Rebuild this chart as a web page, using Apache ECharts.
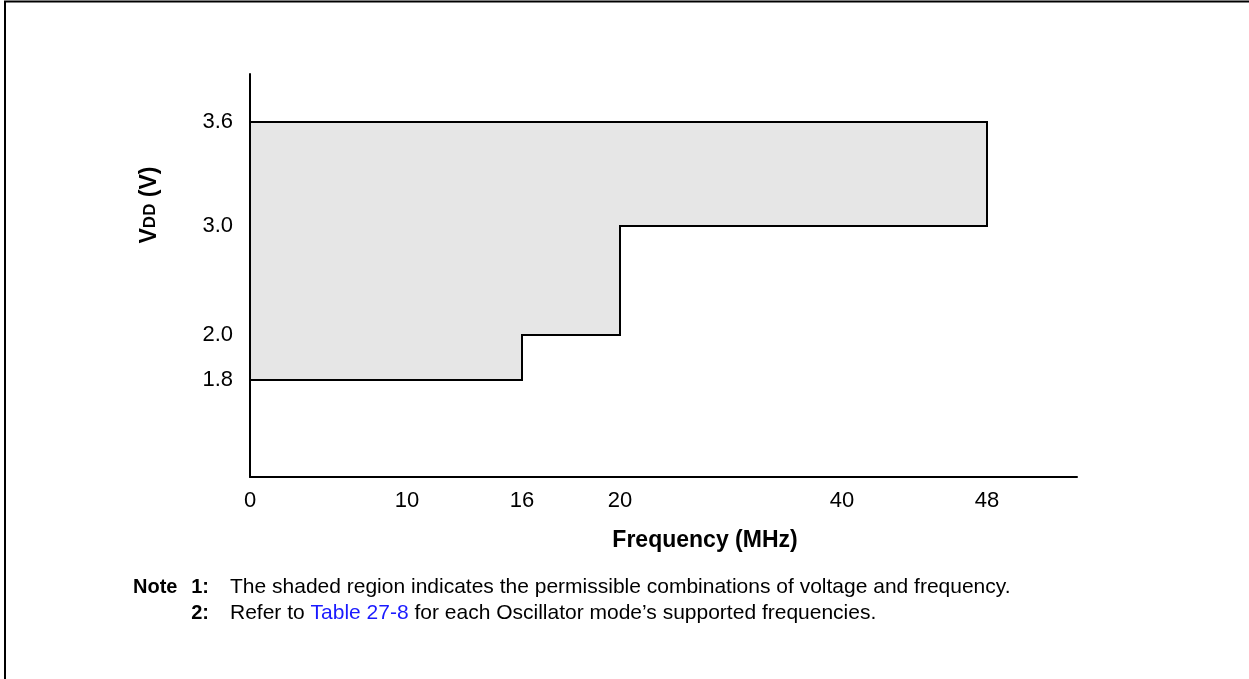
<!DOCTYPE html>
<html>
<head>
<meta charset="utf-8">
<script src="https://cdn.jsdelivr.net/npm/echarts@6/dist/echarts.min.js"></script>
<style>
  html, body { margin: 0; padding: 0; background: #fff; }
  #chart { width: 1249px; height: 679px; }
</style>
</head>
<body>
<div id="chart"></div>
<script>
// operating region: VDD range per frequency band
const bandFreq = [0, 16, 20, 48];      // MHz, band edges
const bandVddMin = [1.8, 2.0, 3.0];    // V, minimum VDD in each band
const vddMax = 3.6;                    // V

// tick labels
const freqTicks = [0, 10, 16, 20, 40, 48];
const vddTicks = [1.8, 2.0, 3.0, 3.6];

// the drawing is schematic (not to scale): where each tick sits on its axis
const freqTickPos = [0, 157, 272, 370, 592, 737];
const vddTickPos = [97, 142, 251, 355];
const xAxisMax = 827;
const yAxisMax = 403;

const FONT = '"Liberation Sans", Arial, Helvetica, sans-serif';

// map a real value onto the schematic axis (piecewise between ticks)
function mapAxis(v, ticks, pos) {
  for (let i = 0; i < ticks.length - 1; i++) {
    if (v <= ticks[i + 1]) {
      const t = (v - ticks[i]) / (ticks[i + 1] - ticks[i]);
      return pos[i] + t * (pos[i + 1] - pos[i]);
    }
  }
  return pos[pos.length - 1];
}
const fx = f => mapAxis(f, freqTicks, freqTickPos);
const fy = v => mapAxis(v, vddTicks, vddTickPos);

// outline of the shaded region, in real units
function regionOutline() {
  const pts = [];
  for (let i = 0; i < bandVddMin.length; i++) {
    pts.push([bandFreq[i], bandVddMin[i]]);
    pts.push([bandFreq[i + 1], bandVddMin[i]]);
  }
  pts.push([bandFreq[bandFreq.length - 1], vddMax]);
  pts.push([bandFreq[0], vddMax]);
  return pts;
}

const chart = echarts.init(document.getElementById('chart'), null, { renderer: 'canvas' });

const option = {
  backgroundColor: '#fff',
  animation: false,
  grid: { left: 250, right: 172, top: 74, bottom: 202 },
  xAxis: {
    type: 'value',
    min: 0,
    max: xAxisMax,
    axisLine: { show: true, lineStyle: { color: '#000', width: 2 } },
    axisTick: { show: false },
    splitLine: { show: false },
    axisLabel: {
      customValues: freqTickPos,
      formatter: v => String(freqTicks[freqTickPos.indexOf(v)]),
      color: '#000',
      fontFamily: FONT,
      fontSize: 22,
      margin: 13
    }
  },
  yAxis: {
    type: 'value',
    min: 0,
    max: yAxisMax,
    axisLine: { show: true, lineStyle: { color: '#000', width: 2 } },
    axisTick: { show: false },
    splitLine: { show: false },
    axisLabel: {
      customValues: vddTickPos,
      formatter: v => vddTicks[vddTickPos.indexOf(v)].toFixed(1),
      color: '#000',
      fontFamily: FONT,
      fontSize: 22,
      margin: 17
    }
  },
  series: [{
    type: 'custom',
    data: [0],
    silent: true,
    renderItem: (params, api) => {
      const points = regionOutline().map(p => api.coord([fx(p[0]), fy(p[1])]));
      return {
        type: 'polygon',
        shape: { points: points },
        style: { fill: '#e6e6e6', stroke: '#000', lineWidth: 2 }
      };
    }
  }],
  graphic: [
    // frame
    { type: 'polyline', shape: { points: [[5, 679], [5, 1.5], [1249, 1.5]] },
      style: { stroke: '#000', lineWidth: 2, fill: null } },
    // y axis title
    { type: 'text', x: 150, y: 205, rotation: Math.PI / 2,
      style: {
        text: '{a|V}{b|DD}{a| (V)}',
        align: 'center', verticalAlign: 'middle',
        rich: {
          a: { fontFamily: FONT, fontSize: 23, fontWeight: 'bold', fill: '#000' },
          b: { fontFamily: FONT, fontSize: 17, fontWeight: 'bold', fill: '#000' }
        }
      } },
    // x axis title
    { type: 'text', x: 705, y: 541,
      style: { text: 'Frequency (MHz)', align: 'center', verticalAlign: 'middle',
        fontFamily: FONT, fontSize: 23, fontWeight: 'bold', fill: '#000' } },
    // notes
    { type: 'text', x: 133, y: 587,
      style: { text: 'Note', verticalAlign: 'middle',
        fontFamily: FONT, fontSize: 20, fontWeight: 'bold', fill: '#000' } },
    { type: 'text', x: 209, y: 587,
      style: { text: '1:', align: 'right', verticalAlign: 'middle',
        fontFamily: FONT, fontSize: 20, fontWeight: 'bold', fill: '#000' } },
    { type: 'text', x: 209, y: 613,
      style: { text: '2:', align: 'right', verticalAlign: 'middle',
        fontFamily: FONT, fontSize: 20, fontWeight: 'bold', fill: '#000' } },
    { type: 'text', x: 230, y: 587,
      style: { text: 'The shaded region indicates the permissible combinations of voltage and frequency.',
        verticalAlign: 'middle', fontFamily: FONT, fontSize: 21, fill: '#000' } },
    { type: 'text', x: 230, y: 613,
      style: {
        text: '{t|Refer to }{l|Table 27-8}{t| for each Oscillator mode\u2019s supported frequencies.}',
        verticalAlign: 'middle',
        rich: {
          t: { fontFamily: FONT, fontSize: 21, fill: '#000' },
          l: { fontFamily: FONT, fontSize: 21, fill: '#1a1aff' }
        }
      } }
  ]
};

chart.setOption(option);
</script>
</body>
</html>
